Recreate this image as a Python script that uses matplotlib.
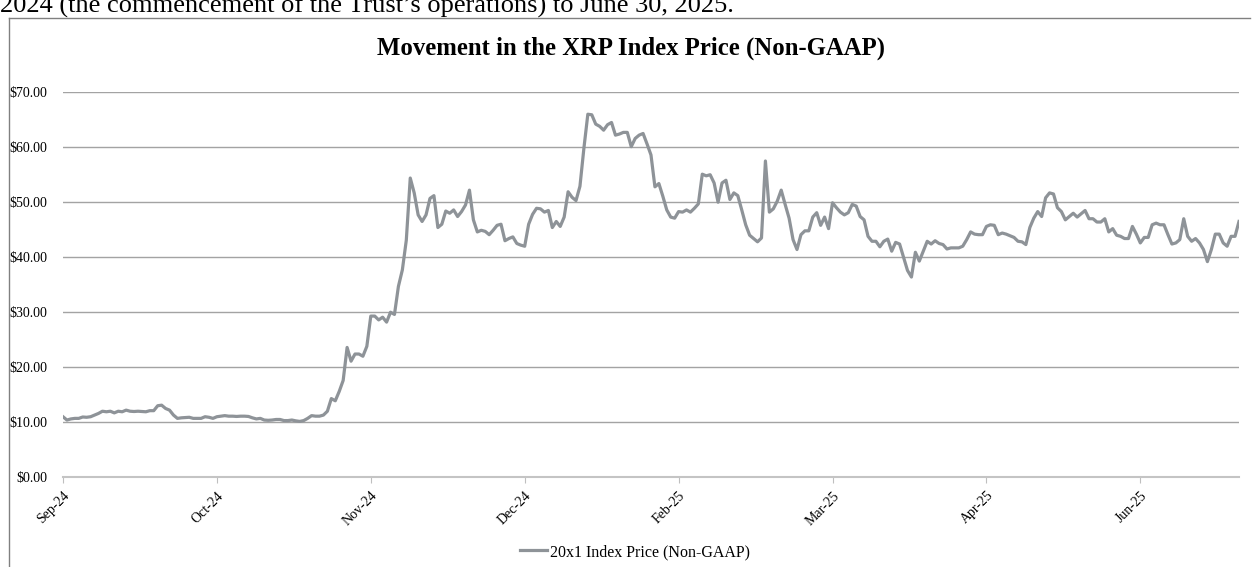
import matplotlib
matplotlib.use("Agg")
import matplotlib.pyplot as plt
import numpy as np
import pandas as pd
from matplotlib.lines import Line2D

# daily 20x1 index price (Sep 5, 2024 .. Jun 30, 2025)
start_date = "2024-09-05"
index_price = [
    10.9, 10.3, 10.5, 10.6, 10.6, 10.85, 10.8, 10.9, 11.2, 11.5,
    11.9, 11.8, 11.9, 11.6, 11.9, 11.8, 12.1, 11.9, 11.85, 11.9,
    11.85, 11.8, 12.0, 12.0, 12.9, 13.0, 12.4, 12.1, 11.2, 10.6,
    10.7, 10.75, 10.8, 10.6, 10.6, 10.6, 10.9, 10.8, 10.6, 10.9,
    11.0, 11.1, 11.0, 11.0, 10.95, 11.0, 11.0, 10.95, 10.7, 10.5,
    10.6, 10.3, 10.25, 10.3, 10.4, 10.4, 10.2, 10.2, 10.3, 10.15,
    10.05, 10.2, 10.6, 11.1, 11.0, 11.0, 11.2, 11.9, 14.2, 13.8,
    15.5, 17.5, 23.5, 21.0, 22.3, 22.3, 21.9, 23.7, 29.2, 29.2,
    28.5, 29.0, 28.1, 29.9, 29.5, 34.6, 37.6, 43.0, 54.3, 51.6,
    47.6, 46.4, 47.6, 50.6, 51.1, 45.3, 45.9, 48.3, 47.9, 48.5,
    47.3, 48.2, 49.4, 52.1, 46.7, 44.5, 44.8, 44.6, 44.0, 44.8,
    45.7, 45.9, 42.9, 43.3, 43.6, 42.4, 42.1, 41.9, 45.9, 47.7,
    48.8, 48.7, 48.1, 48.4, 45.3, 46.4, 45.5, 47.2, 51.8, 50.8,
    50.2, 52.8, 59.7, 65.9, 65.8, 64.1, 63.7, 63.0, 64.0, 64.4,
    62.1, 62.3, 62.6, 62.6, 60.0, 61.5, 62.1, 62.4, 60.5, 58.5,
    52.7, 53.3, 51.0, 48.5, 47.2, 47.0, 48.2, 48.1, 48.5, 48.1,
    48.8, 49.6, 55.0, 54.7, 54.9, 53.4, 49.9, 53.4, 53.9, 50.4,
    51.6, 51.1, 48.5, 45.8, 43.9, 43.3, 42.7, 43.4, 57.4, 48.1,
    48.7, 50.1, 52.1, 49.5, 47.0, 43.1, 41.3, 44.0, 44.7, 44.7,
    47.2, 48.0, 45.7, 47.2, 45.1, 49.8, 48.9, 48.1, 47.6, 48.0,
    49.5, 49.2, 47.3, 46.7, 43.7, 42.8, 42.8, 41.8, 42.8, 43.2,
    41.0, 42.6, 42.3, 39.9, 37.5, 36.3, 40.8, 39.2, 41.0, 42.8,
    42.3, 42.9, 42.4, 42.2, 41.4, 41.6, 41.6, 41.6, 41.9, 43.1,
    44.5, 44.1, 44.0, 44.0, 45.5, 45.8, 45.7, 44.0, 44.3, 44.1,
    43.8, 43.5, 42.8, 42.7, 42.2, 45.3, 47.0, 48.2, 47.3, 50.7,
    51.6, 51.4, 48.9, 48.2, 46.7, 47.3, 47.9, 47.2, 47.8, 48.4,
    46.9, 46.9, 46.3, 46.3, 46.9, 44.5, 45.1, 43.9, 43.7, 43.3,
    43.3, 45.5, 44.1, 42.5, 43.5, 43.5, 45.8, 46.1, 45.8, 45.8,
    44.0, 42.3, 42.5, 43.1, 46.9, 43.7, 42.8, 43.3, 42.5, 41.3,
    39.1, 41.3, 44.1, 44.1, 42.5, 41.9, 43.7, 43.7, 46.4,
]
tick_step = 39  # the category axis labels every 39th day
y_ticks = [0, 10, 20, 30, 40, 50, 60, 70]

dates = pd.date_range(start_date, periods=len(index_price), freq="D")
x = np.arange(len(index_price))

plt.rcParams["font.family"] = ["Liberation Serif", "DejaVu Serif"]

fig = plt.figure(figsize=(12.52, 5.67), dpi=100)
ax = fig.add_axes([0.0503, 0.1593, 0.9393, 0.679])

ax.plot(x, index_price, color="#8e9398", lw=2.3, solid_joinstyle="round",
        label="20x1 Index Price (Non-GAAP)", zorder=3)

ax.set_xlim(0, len(index_price) - 1)
ax.set_ylim(0, 70)
ax.set_yticks(y_ticks)
ax.set_yticklabels([f"${v:.2f}" for v in y_ticks], fontsize=10)
ax.tick_params(axis="y", length=0, pad=11)
ax.grid(axis="y", color="#a3a3a3", lw=1.0)
ax.set_axisbelow(True)

tick_idx = x[::tick_step]
ax.set_xticks(tick_idx)
ax.set_xticklabels([dates[i].strftime("%b-%y") for i in tick_idx],
                   rotation=45, ha="right", va="top", rotation_mode="anchor",
                   fontsize=10)
ax.tick_params(axis="x", length=4, color="#bfbfbf", pad=5)

for s in ["top", "right", "left"]:
    ax.spines[s].set_visible(False)
ax.spines["bottom"].set_color("#c4c4c4")
ax.spines["bottom"].set_linewidth(1.5)

fig.text(0.504, 0.915, "Movement in the XRP Index Price (Non-GAAP)",
         ha="center", va="center", fontsize=17.8, fontweight="bold")

# cut-off sentence above the chart frame
fig.text(0.0, 1 - 13 / 567, "2024 (the commencement of the Trust\u2019s operations) to June 30, 2025.",
         ha="left", va="baseline", fontsize=19)

# frame around the chart
fig.add_artist(Line2D([9 / 1252, 9 / 1252], [0, 1 - 18 / 567], color="#808080", lw=1))
fig.add_artist(Line2D([9 / 1252, 1250 / 1252], [1 - 18 / 567, 1 - 18 / 567], color="#808080", lw=1))

fig.legend(loc="center", bbox_to_anchor=(0.507, 1 - 552 / 567), frameon=False,
           fontsize=11.5, handlelength=1.7, handletextpad=0.2)

fig.savefig("out.png", dpi=100)
